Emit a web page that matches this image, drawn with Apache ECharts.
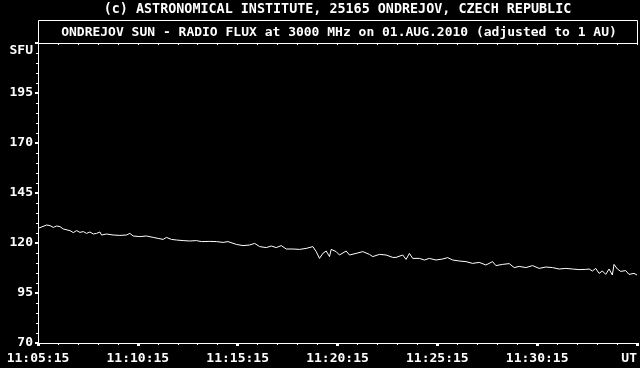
<!DOCTYPE html>
<html>
<head>
<meta charset="utf-8">
<script src="https://cdn.jsdelivr.net/npm/echarts@6/dist/echarts.min.js"></script>
<style>
html,body{margin:0;padding:0;background:#000;}
#chart{width:640px;height:368px;}
</style>
</head>
<body>
<div id="chart"></div>
<script>
// seconds after 11:05:15 UT
var times = [3,9,26,36,46,56,66,76,96,106,116,126,136,146,156,166,176,186,191,206,226,246,266,276,286,306,326,346,361,376,386,391,401,416,436,456,476,491,496,516,536,556,571,
576,596,616,636,651,666,686,701,716,731,746,766,786,806,826,836,846,856,866,876,881,896,906,926,936,956,976,996,1006,1026,1046,1066,1076,1096,1106,1116,1126,1146,1161,1176,
1196,1216,1231,1246,1266,1286,1306,1326,1346,1366,1376,1396,1416,1431,1446,1466,1486,1506,1526,1546,1566,1586,1606,1626,1646,1656,1666,1676,1686,1696,1706,1716,1726,1731,1741,1751,1766,1776,1791,1800];
// flux in SFU
var flux = [127.5,128.2,129,128.7,127.8,128.5,128.2,127,126.2,125.2,126.2,125.3,125.7,124.8,125.5,124.5,124.8,125.5,124,124.5,124,123.8,124,124.8,123.5,123.2,123.5,122.8,122.3,121.8,122.8,123.5,121.8,121.5,121.2,121,121.2,120.7,121.5,120.8,120.7,120.3,120.7,
120.3,119.3,118.7,119,119.8,118.2,117.7,118.5,117.7,118.7,117,117,116.8,117.3,118.2,115.7,112.3,114.8,116,113.2,116.8,115.7,114,116,114,114.8,115.7,114.3,113.2,114.3,114,112.8,112.8,114,111.8,114.8,112.3,112.3,111.5,112.3,
111.5,112,112.7,111.5,111,110.7,109.8,110.3,109,110.7,108.7,109.3,109.7,107.7,108.3,107.7,108.7,107.3,108,107.7,107,107.3,107,106.7,106.8,107,106,107.3,104.8,106,104.3,107,104,109.3,107,105.8,106.2,104.3,104.8,104];
var xTickLabels = ["11:05:15","11:10:15","11:15:15","11:20:15","11:25:15","11:30:15","UT"];
var titleText = "(c) ASTRONOMICAL INSTITUTE, 25165 ONDREJOV, CZECH REPUBLIC";
var subtitleText = "ONDREJOV SUN - RADIO FLUX at 3000 MHz on 01.AUG.2010 (adjusted to 1 AU)";
var yUnit = "SFU";

var FONT = "'DejaVu Sans Mono', monospace";
var pts = times.map(function(t,i){return [t, flux[i]];});
var chart = echarts.init(document.getElementById('chart'));
chart.setOption({
  backgroundColor: '#000',
  animation: false,
  grid: {left: 38, top: 43, width: 599, height: 300, show: false},
  xAxis: [{
    type: 'value', min: 0, max: 1800, interval: 300, position: 'bottom',
    axisLine: {show: true, lineStyle: {color: '#fff', width: 1}},
    axisTick: {show: true, length: 3, lineStyle: {color: '#fff', width: 3}},
    minorTick: {show: true, splitNumber: 5, length: 2, lineStyle: {color: '#fff', width: 1}},
    splitLine: {show: false},
    axisLabel: {color: '#fff', fontFamily: FONT, fontWeight: 'bold', fontSize: 13, margin: 9, alignMaxLabel: 'right',
      formatter: function(v){ return xTickLabels[Math.round(v/300)]; }}
  },{
    type: 'value', min: 0, max: 1800, interval: 60, position: 'top',
    axisLine: {show: true, lineStyle: {color: '#fff', width: 1}},
    axisTick: {show: true, inside: true, length: 2, lineStyle: {color: '#fff', width: 1}},
    axisLabel: {show: false}, splitLine: {show: false}
  }],
  yAxis: [{
    type: 'value', min: 70, max: 220, interval: 25, position: 'left',
    axisLine: {show: true, lineStyle: {color: '#fff', width: 1}},
    axisTick: {show: true, length: 3, lineStyle: {color: '#fff', width: 2}},
    minorTick: {show: true, splitNumber: 5, length: 2, lineStyle: {color: '#fff', width: 1}},
    splitLine: {show: false},
    axisLabel: {color: '#fff', fontFamily: FONT, fontWeight: 'bold', fontSize: 13, margin: 5, showMaxLabel: false}
  },{
    type: 'value', min: 70, max: 220, position: 'right',
    axisLine: {show: true, lineStyle: {color: '#fff', width: 1}},
    axisTick: {show: false}, axisLabel: {show: false}, splitLine: {show: false}
  }],
  graphic: [
    {type: 'rect', shape: {x: 38.5, y: 20.5, width: 599, height: 23}, style: {fill: 'none', stroke: '#fff', lineWidth: 1}},
    {type: 'text', x: 337.5, y: 9.5, style: {text: titleText, fill: '#fff', font: "bold 13.4px " + FONT, align: 'center', verticalAlign: 'middle'}},
    {type: 'text', x: 339, y: 32.5, style: {text: subtitleText, fill: '#fff', font: "bold 13px " + FONT, align: 'center', verticalAlign: 'middle'}},
    {type: 'text', x: 33, y: 51, style: {text: yUnit, fill: '#fff', font: "bold 13px " + FONT, align: 'right', verticalAlign: 'middle'}}
  ],
  series: [{
    type: 'line', data: pts, showSymbol: false, symbol: 'none',
    lineStyle: {color: '#fff', width: 1}, xAxisIndex: 0, yAxisIndex: 0
  }]
});
</script>
</body>
</html>
